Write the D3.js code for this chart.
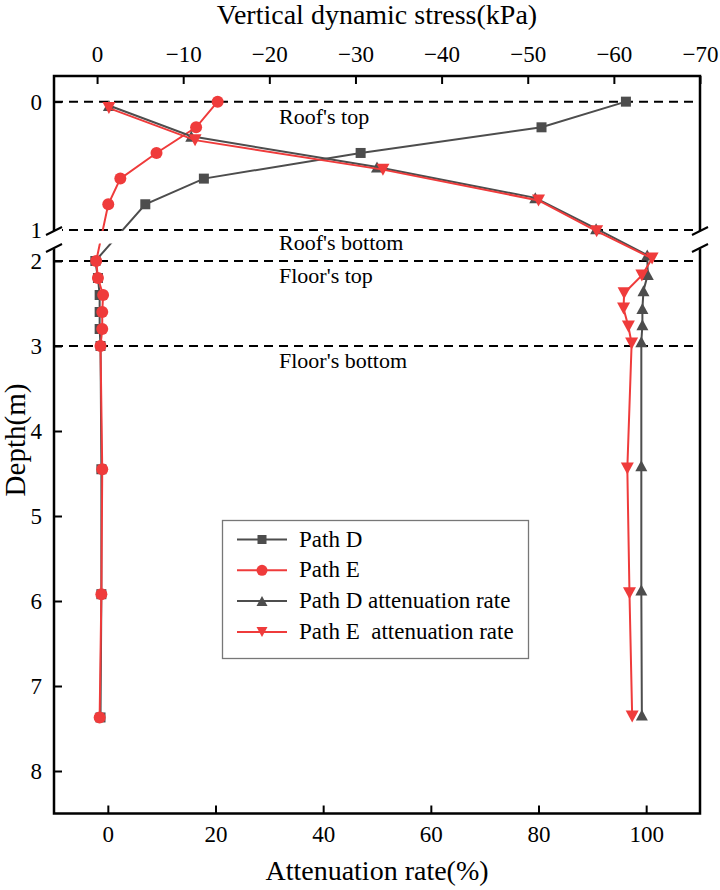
<!DOCTYPE html>
<html>
<head>
<meta charset="utf-8">
<script src="https://cdn.jsdelivr.net/npm/d3@7"></script>
<style>
  html, body { margin: 0; padding: 0; background: #fff; }
  svg { display: block; }
  svg text { font-family: "Liberation Serif", "Tinos", "Times New Roman", "DejaVu Serif", "Noto Serif", serif !important; fill: #000; }
</style>
</head>
<body>
<svg id="chart" width="720" height="890"></svg>
<script>
// ---------------- data ----------------
const stressDepths = [0, 0.2, 0.4, 0.6, 0.8, 2.0, 2.2, 2.4, 2.6, 2.8, 3.0, 4.45, 5.92, 7.37];
const pathD = [-61.4, -51.6, -30.6, -12.4, -5.6, 0.2, -0.1, -0.3, -0.3, -0.3, -0.4, -0.5, -0.5, -0.4];
const pathE = [-14.0, -11.5, -6.9, -2.7, -1.3, 0.1, -0.1, -0.7, -0.6, -0.6, -0.4, -0.6, -0.5, -0.3];

const attnDepthsD = [0.03, 0.27, 0.51, 0.75, 0.99, 1.93, 2.16, 2.35, 2.56, 2.75, 2.95, 4.41, 5.87, 7.34];
const pathDAttn = [0.2, 15.5, 50.0, 79.4, 90.7, 100.2, 100.3, 99.5, 99.3, 99.3, 99.1, 99.1, 99.1, 99.2];
const attnDepthsE = [0.05, 0.3, 0.53, 0.77, 1.01, 1.97, 2.17, 2.38, 2.56, 2.77, 2.97, 4.44, 5.91, 7.36];
const pathEAttn = [0.2, 16.2, 51.1, 80.0, 90.8, 101.1, 99.2, 95.9, 95.8, 96.7, 97.3, 96.5, 96.9, 97.4];

const topTicks = [0, -10, -20, -30, -40, -50, -60, -70];
const bottomTicks = [0, 20, 40, 60, 80, 100];
const depthTicks = [0, 1, 2, 3, 4, 5, 6, 7, 8];
const refDepths = [0, 1, 2, 3];
const refLabels = ["Roof's top", "Roof's bottom", "Floor's top", "Floor's bottom"];
const refLabelDepths = [0, 1, 2, 3];
const legendNames = ["Path D", "Path E", "Path D attenuation rate", "Path E  attenuation rate"];

// ---------------- layout ----------------
const L = 54, R = 700, T = 76, B = 813.5;
const breakTop = 233, breakBot = 244;
const GRAY = "#4d4d4d", RED = "#ef3b3b";
const FONT = '"Liberation Serif", "Tinos", "Times New Roman", "DejaVu Serif", serif';

const svg = d3.select("#chart");

const xTop = d3.scaleLinear().domain([5, -70]).range([L, R]);
const xBot = d3.scaleLinear().domain([-10, 110]).range([L, R]);
const y = d3.scaleLinear().domain([-0.2, 1.024, 1.8, 8.5]).range([T, breakTop, breakBot, B]);

// clip for stress lines (gap in break band)
const defs = svg.append("defs");
defs.append("clipPath").attr("id", "gapClip")
  .call(c => {
    c.append("rect").attr("x", L).attr("y", T).attr("width", R - L).attr("height", 231 - T);
    c.append("rect").attr("x", L).attr("y", 243.5).attr("width", R - L).attr("height", B - 243.5);
  });

// reference dashed lines
svg.append("g").selectAll("line").data(refDepths).join("line")
  .attr("x1", L).attr("x2", R)
  .attr("y1", d => y(d)).attr("y2", d => y(d))
  .attr("stroke", "#000").attr("stroke-width", 2).attr("stroke-dasharray", "9,6");

// reference labels
const labOff = [22, 20, 22, 22];
svg.append("g").selectAll("text").data(refLabels).join("text")
  .attr("x", 279)
  .attr("y", (d, i) => y(refLabelDepths[i]) + labOff[i])
  .attr("font-family", FONT)
  .attr("font-size", 22)
  .text(d => d);

// axes
const tickStyle = g => {
  g.attr("font-family", FONT);
  g.select(".domain").remove();
  g.selectAll(".tick line").attr("stroke", "#000").attr("stroke-width", 2);
  g.selectAll(".tick text").attr("font-family", FONT).attr("font-size", 23).attr("fill", "#000");
};
svg.append("g").attr("transform", `translate(0,${T})`)
  .call(d3.axisTop(xTop).tickValues(topTicks).tickSize(-8).tickPadding(14))
  .call(tickStyle);
svg.append("g").attr("transform", `translate(0,${B})`)
  .call(d3.axisBottom(xBot).tickValues(bottomTicks).tickSize(-8).tickPadding(12))
  .call(tickStyle);
svg.append("g").attr("transform", `translate(${L},0)`)
  .call(d3.axisLeft(y).tickValues(depthTicks).tickSize(-8).tickPadding(12).tickFormat(d3.format("d")))
  .call(tickStyle);

// frame with breaks
const frame = svg.append("g").attr("fill", "none").attr("stroke", "#000").attr("stroke-width", 2.5);
frame.append("path").attr("d", `M${L},${breakTop} V${T} H${R} V${breakTop}`);
frame.append("path").attr("d", `M${L},${breakBot} V${B} H${R} V${breakBot}`);

// series drawing
function drawLine(xs, ys, xScale, color, clip) {
  const pts = xs.map((v, i) => [xScale(v), y(ys[i])]);
  const p = svg.append("path").datum(pts)
    .attr("d", d3.line())
    .attr("fill", "none").attr("stroke", color).attr("stroke-width", 2);
  if (clip) p.attr("clip-path", "url(#gapClip)");
  return pts;
}
function triPath(w, h, up) {
  const hw = w / 2, hh = h / 2;
  return up ? `M0,${-hh} L${hw},${hh} L${-hw},${hh} Z` : `M0,${hh} L${hw},${-hh} L${-hw},${-hh} Z`;
}
function drawMarkers(pts, shape, color) {
  const g = svg.append("g").attr("fill", color);
  pts.forEach(([px, py]) => {
    if (shape === "square") g.append("rect").attr("x", px - 5).attr("y", py - 5).attr("width", 10).attr("height", 10);
    else if (shape === "circle") g.append("circle").attr("cx", px).attr("cy", py).attr("r", 6);
    else if (shape === "up") g.append("path").attr("d", triPath(12, 11, true)).attr("transform", `translate(${px},${py})`);
    else g.append("path").attr("d", triPath(13, 12, false)).attr("transform", `translate(${px},${py})`);
  });
}

const pD = drawLine(pathD, stressDepths, xTop, GRAY, true);
drawMarkers(pD, "square", GRAY);
const pE = drawLine(pathE, stressDepths, xTop, RED, true);
drawMarkers(pE, "circle", RED);
const pDA = drawLine(pathDAttn, attnDepthsD, xBot, GRAY, false);
drawMarkers(pDA, "up", GRAY);
const pEA = drawLine(pathEAttn, attnDepthsE, xBot, RED, false);
drawMarkers(pEA, "down", RED);

// break marks
function breakMarks(x) {
  const g = svg.append("g");
  g.append("polygon")
    .attr("points", `${x - 8},${breakTop + 2} ${x + 8},${breakTop - 6} ${x + 8},${breakBot + 2} ${x - 8},${breakBot + 8}`)
    .attr("fill", "#fff");
  [breakTop - 2, breakBot + 4].forEach(yy => {
    g.append("line").attr("x1", x - 8).attr("y1", yy + 4).attr("x2", x + 8).attr("y2", yy - 4)
      .attr("stroke", "#000").attr("stroke-width", 2);
  });
}
breakMarks(L);
breakMarks(R);

// axis titles
svg.append("text").attr("x", (L + R) / 2).attr("y", 24).attr("text-anchor", "middle")
  .attr("font-family", FONT).attr("font-size", 28).text("Vertical dynamic stress(kPa)");
svg.append("text").attr("x", (L + R) / 2).attr("y", 880).attr("text-anchor", "middle")
  .attr("font-family", FONT).attr("font-size", 28).text("Attenuation rate(%)");
svg.append("text").attr("transform", `translate(25,440) rotate(-90)`).attr("text-anchor", "middle")
  .attr("font-family", FONT).attr("font-size", 29).text("Depth(m)");

// legend
const lg = svg.append("g");
lg.append("rect").attr("x", 222.5).attr("y", 520.5).attr("width", 306).attr("height", 138)
  .attr("fill", "#fff").attr("stroke", "#777").attr("stroke-width", 1.3);
const legColors = [GRAY, RED, GRAY, RED];
const legShapes = ["square", "circle", "up", "down"];
legendNames.forEach((name, i) => {
  const cy = 539.5 + i * 30.8;
  lg.append("line").attr("x1", 237).attr("x2", 287).attr("y1", cy).attr("y2", cy)
    .attr("stroke", legColors[i]).attr("stroke-width", 2);
  const cx = 262;
  if (legShapes[i] === "square") lg.append("rect").attr("x", cx - 4.5).attr("y", cy - 4.5).attr("width", 9).attr("height", 9).attr("fill", legColors[i]);
  else if (legShapes[i] === "circle") lg.append("circle").attr("cx", cx).attr("cy", cy).attr("r", 5.5).attr("fill", legColors[i]);
  else lg.append("path").attr("d", triPath(11, 10, legShapes[i] === "up")).attr("transform", `translate(${cx},${cy})`).attr("fill", legColors[i]);
  lg.append("text").attr("x", 299).attr("y", cy + 7).attr("font-family", FONT).attr("font-size", 23)
    .attr("xml:space", "preserve").style("white-space", "pre").text(name);
});
</script>
</body>
</html>
